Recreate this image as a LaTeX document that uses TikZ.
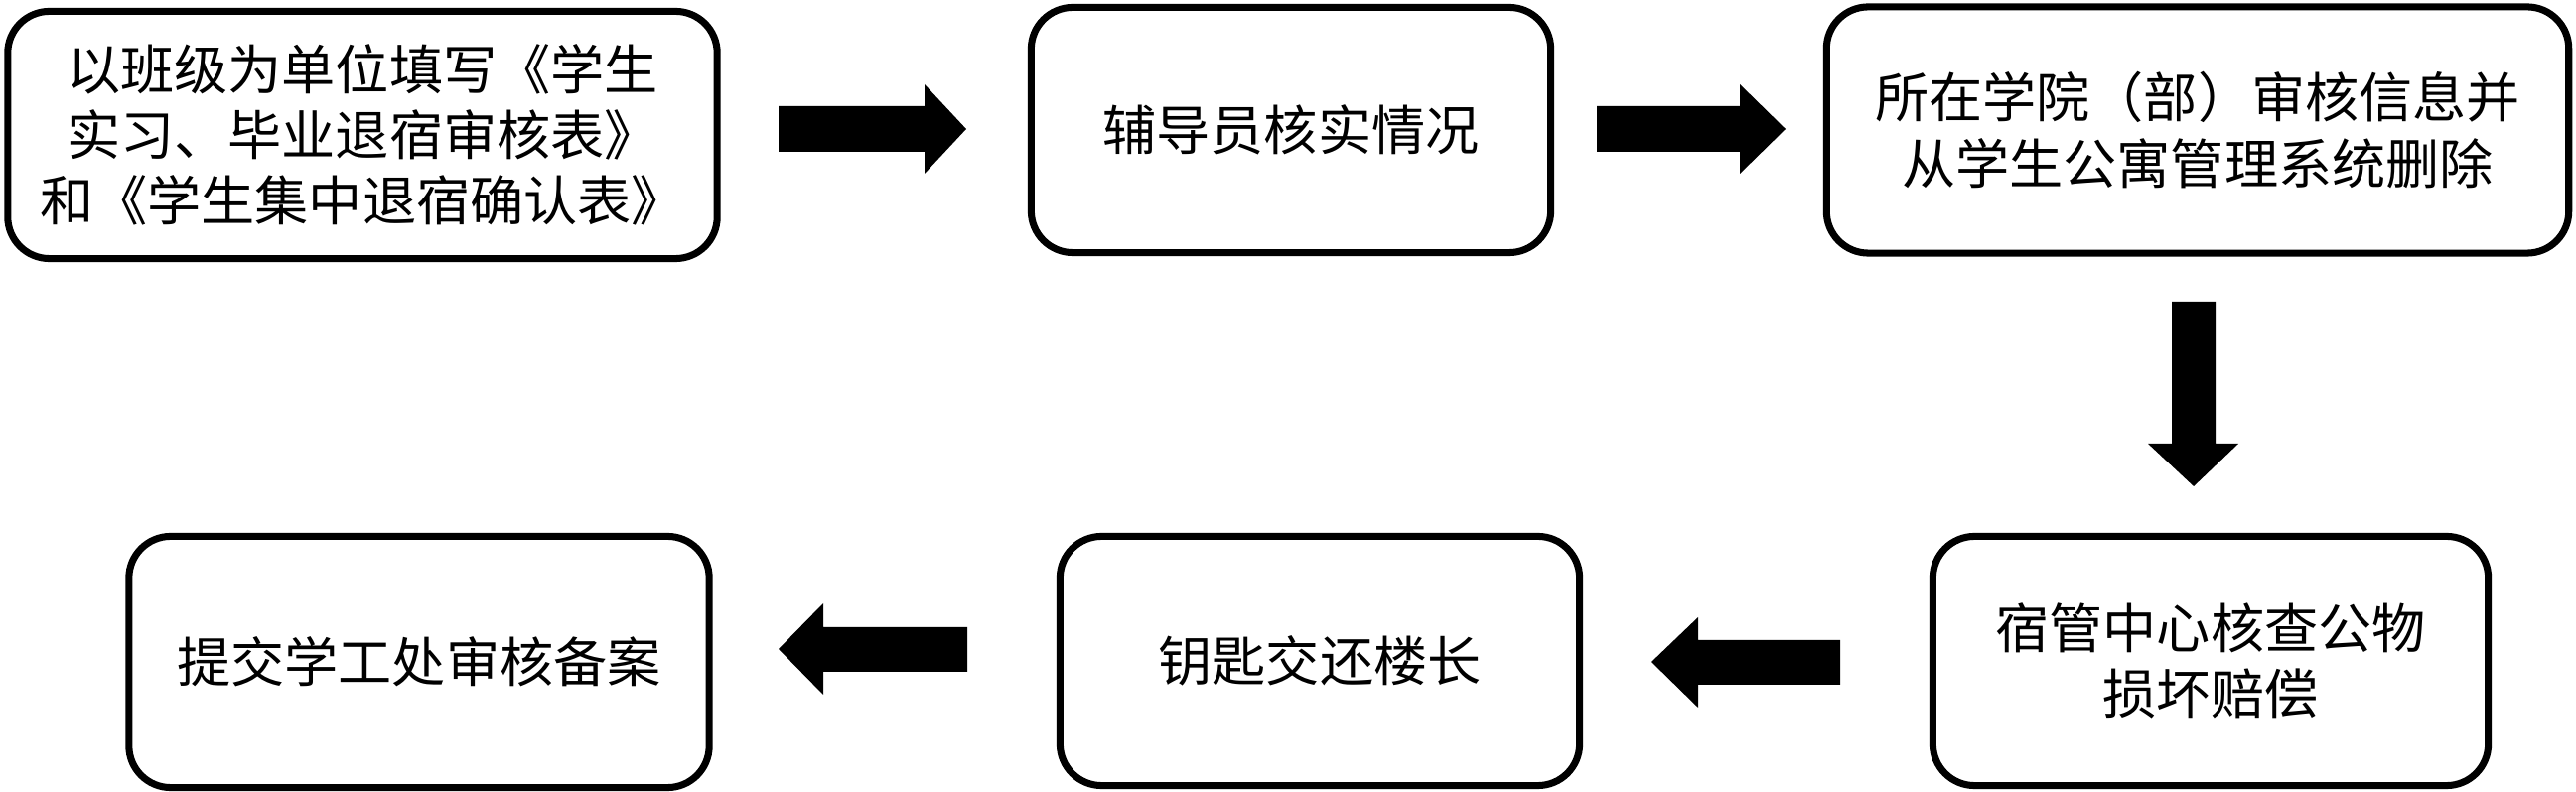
\documentclass[tikz,border=0pt]{standalone}
\usepackage{fontspec}
\newfontfamily\cjk{Noto Sans CJK SC}
\begin{document}
\begin{tikzpicture}[x=0.01cm,y=-0.01cm,
  stepbox/.style={draw=black,line width=2pt,rounded corners=0.42cm,fill=white,
    inner sep=0pt,align=center,font={\cjk\fontsize{15.4pt}{18.8pt}\selectfont}},
  blockarrow/.style={fill=black}]
\useasboundingbox (0,0) rectangle (2594,798);
\node[stepbox,minimum width=7.14cm,minimum height=2.49cm] (b1) at (365,136)
  {以班级为单位填写《学生\\实习、毕业退宿审核表》\\和《学生集中退宿确认表》};
\node[stepbox,minimum width=5.23cm,minimum height=2.47cm] (b2) at (1300,131) {辅导员核实情况};
\node[stepbox,minimum width=7.47cm,minimum height=2.48cm] (b3) at (2213,131)
  {所在学院（部）审核信息并\\从学生公寓管理系统删除};
\node[stepbox,minimum width=5.59cm,minimum height=2.51cm] (b4) at (2226,666)
  {宿管中心核查公物\\损坏赔偿};
\node[stepbox,minimum width=5.23cm,minimum height=2.51cm] (b5) at (1329,666) {钥匙交还楼长};
\node[stepbox,minimum width=5.84cm,minimum height=2.53cm] (b6) at (422,667) {提交学工处审核备案};
% arrows
\fill[blockarrow] (784,107) -- (931,107) -- (931,85) -- (973,130) -- (931,175) -- (931,153) -- (784,153) -- cycle;
\fill[blockarrow] (1608,107) -- (1752,107) -- (1752,85) -- (1798,130) -- (1752,175) -- (1752,153) -- (1608,153) -- cycle;
\fill[blockarrow] (2187,304) -- (2231,304) -- (2231,447) -- (2254,447) -- (2209,490) -- (2163,447) -- (2187,447) -- cycle;
\fill[blockarrow] (1853,645) -- (1710,645) -- (1710,622) -- (1663,667) -- (1710,713) -- (1710,690) -- (1853,690) -- cycle;
\fill[blockarrow] (974,632) -- (829,632) -- (829,608) -- (784,654) -- (829,700) -- (829,677) -- (974,677) -- cycle;
\end{tikzpicture}
\end{document}
